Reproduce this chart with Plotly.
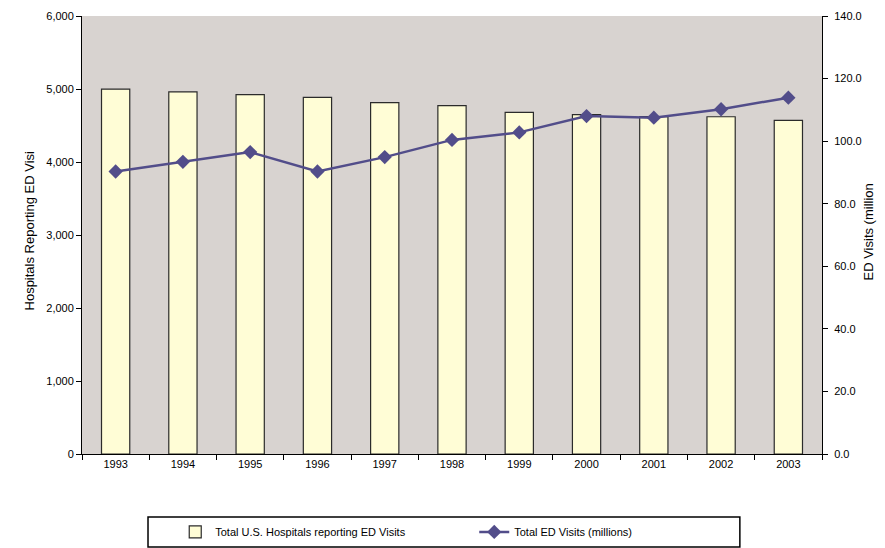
import plotly.graph_objects as go

years = ["1993", "1994", "1995", "1996", "1997", "1998", "1999", "2000", "2001", "2002", "2003"]
hospitals = [4998, 4960, 4923, 4884, 4813, 4771, 4679, 4650, 4621, 4620, 4570]
visits = [90.3, 93.4, 96.5, 90.3, 94.9, 100.4, 102.8, 108.0, 107.5, 110.2, 113.9]

FONT = "Liberation Sans, Arial, sans-serif"

fig = go.Figure()
fig.add_trace(go.Bar(
    x=years, y=hospitals, name="Total U.S. Hospitals reporting ED Visits",
    marker=dict(color="#FFFDD6", line=dict(color="#2b2b2b", width=1.2)),
    width=0.42, yaxis="y"))
fig.add_trace(go.Scatter(
    x=years, y=visits, name="Total ED Visits (millions)", mode="lines+markers",
    line=dict(color="#524D8A", width=2.5),
    marker=dict(symbol="diamond", size=11, color="#524D8A"),
    yaxis="y2"))

fig.update_layout(
    width=885, height=548,
    margin=dict(l=82, r=63, t=16, b=94, autoexpand=False),
    paper_bgcolor="white", plot_bgcolor="#D8D3D0",
    font=dict(family=FONT, size=11, color="black"),
    showlegend=True,
    legend=dict(orientation="h", x=0.126, xanchor="left", y=-0.178, yanchor="middle",
                bgcolor="rgba(0,0,0,0)", font=dict(size=11), entrywidth=254,
                traceorder="normal"),
    xaxis=dict(type="category", range=[-0.5, 10.5], showgrid=False, showline=True,
               linecolor="black", linewidth=1, ticks="outside", tickson="boundaries",
               ticklen=5, tickcolor="black", tickfont=dict(size=11), automargin=False),
    yaxis=dict(range=[0, 6000], dtick=1000, tickformat=",", showgrid=False, showline=True,
               linecolor="black", linewidth=1, ticks="outside", ticklen=5, tickcolor="black",
               zeroline=False, tickfont=dict(size=11), automargin=False),
    yaxis2=dict(range=[0, 140], dtick=20, tickformat=".1f", overlaying="y", side="right",
                showgrid=False, showline=True, linecolor="black", linewidth=1,
                ticks="outside", ticklen=5, tickcolor="black", zeroline=False,
                tickfont=dict(size=11), automargin=False, ticklabelstandoff=4),
    bargap=0.58,
    shapes=[dict(type="rect", xref="paper", yref="paper", x0=0.0892, x1=0.889,
                 y0=-0.2123, y1=-0.1438, line=dict(color="black", width=1.5))],
    annotations=[
        dict(text="Hospitals Reporting ED Visi", xref="paper", yref="paper", x=-0.0838,
             y=(454 - 230) / 438, textangle=-90, showarrow=False, font=dict(size=13)),
        dict(text="ED Visits (million", xref="paper", yref="paper", x=(877 - 82) / 740,
             y=(454 - 232) / 438, textangle=-90, showarrow=False, font=dict(size=13)),
    ],
)

fig.write_html("out.html")
